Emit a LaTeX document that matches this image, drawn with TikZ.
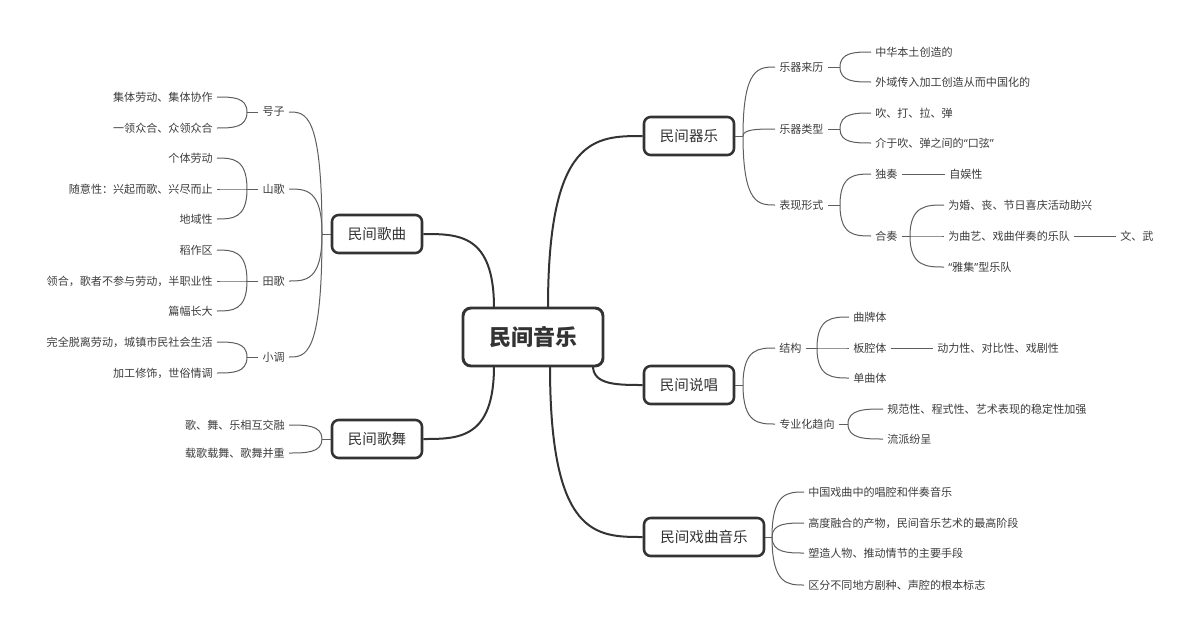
\documentclass[tikz,border=0pt]{standalone}
\usepackage{fontspec}
\newfontfamily\cjk{Noto Sans CJK SC}
\newfontfamily\qf{Noto Sans}
\usetikzlibrary{calc}
\definecolor{ink}{HTML}{333333}
\definecolor{txt}{HTML}{3C3C3C}
\definecolor{wire}{HTML}{5E5E5E}
\newcommand{\openq}{{\qf “}}
\newcommand{\closeq}{{\qf ”}}
\tikzset{
  leaf/.style={font=\cjk\fontsize{8.3}{10}\selectfont, text=txt, inner xsep=3pt, inner ysep=1pt},
  rl/.style={leaf, anchor=west},
  ll/.style={leaf, anchor=east},
  topic/.style={draw=ink, line width=1.9pt, rounded corners=5pt, fill=white, text=ink,
    font=\cjk\fontsize{10.9}{13}\selectfont, minimum width=67.5pt, minimum height=28.5pt, inner sep=0pt},
  rootbox/.style={draw=ink, line width=2.2pt, rounded corners=6pt, fill=white, text=ink,
    font=\cjk\bfseries\fontsize{16.5}{19}\selectfont, minimum width=105pt, minimum height=43.5pt, inner sep=0pt},
  twigline/.style={draw=wire, line width=0.75pt},
  trunkline/.style={draw=ink, line width=1.5pt},
  twig/.style={to path={let \p1=(\tikztostart), \p2=(\tikztotarget) in
    .. controls (\x1,\y2) and ({(\x1+\x2)/2},\y2) .. (\tikztotarget)}},
}
\begin{document}
\begin{tikzpicture}[x=0.75pt,y=-0.75pt]
\useasboundingbox (0,0) rectangle (1200,636);

% central topic and main branches
\node[rootbox] (root) at (533,337) {民间音乐};
\node[topic] (qi) at (689,136) {民间器乐};
\node[topic] (sc) at (689,385) {民间说唱};
\node[topic, minimum width=90pt] (xq) at (704,537) {民间戏曲音乐};
\node[topic] (gq) at (377,234) {民间歌曲};
\node[topic] (gw) at (377,439) {民间歌舞};

\coordinate (r1) at (548,308);
\coordinate (r2) at (593,366);
\coordinate (r3) at (550,366);
\coordinate (r4) at (494,308);
\coordinate (r5) at (494,366);
\draw[trunkline, twig] (r1) to (qi.west);
\draw[trunkline, twig] (r2) to (sc.west);
\draw[trunkline, twig] (r3) to (xq.west);
\draw[trunkline, twig] (r4) to (gq.east);
\draw[trunkline, twig] (r5) to (gw.east);

% ---------- 民间器乐 ----------
\coordinate (fQ) at (743,136);
\draw[twigline] (qi.east) -- (fQ);
\node[rl] (qa) at (775,67) {乐器来历};
\node[rl] (qb) at (775,129) {乐器类型};
\node[rl] (qc) at (775,205) {表现形式};
\foreach \k in {qa,qb,qc} \draw[twigline, twig] (fQ) to (\k.west);

\coordinate (fqa) at (840,67);
\draw[twigline] (qa.east) -- (fqa);
\node[rl] (qa1) at (871,52) {中华本土创造的};
\node[rl] (qa2) at (871,82) {外域传入加工创造从而中国化的};
\draw[twigline, twig] (fqa) to (qa1.west);
\draw[twigline, twig] (fqa) to (qa2.west);

\coordinate (fqb) at (840,129);
\draw[twigline] (qb.east) -- (fqb);
\node[rl] (qb1) at (871,113) {吹、打、拉、弹};
\node[rl] (qb2) at (871,143) {介于吹、弹之间的\openq 口弦\closeq};
\draw[twigline, twig] (fqb) to (qb1.west);
\draw[twigline, twig] (fqb) to (qb2.west);

\coordinate (fqc) at (840,205);
\draw[twigline] (qc.east) -- (fqc);
\node[rl] (qc1) at (871,174) {独奏};
\node[rl] (qc2) at (871,236) {合奏};
\draw[twigline, twig] (fqc) to (qc1.west);
\draw[twigline, twig] (fqc) to (qc2.west);

\node[rl] (qc11) at (945,174) {自娱性};
\draw[twigline] (qc1.east) -- (qc11.west);

\coordinate (fqd) at (910,236);
\draw[twigline] (qc2.east) -- (fqd);
\node[rl] (qc21) at (944,205) {为婚、丧、节日喜庆活动助兴};
\node[rl] (qc22) at (944,236) {为曲艺、戏曲伴奏的乐队};
\node[rl] (qc23) at (944,267) {\openq 雅集\closeq 型乐队};
\foreach \k in {qc21,qc22,qc23} \draw[twigline, twig] (fqd) to (\k.west);
\node[rl] (qc221) at (1116,236) {文、武};
\draw[twigline] (qc22.east) -- (qc221.west);

% ---------- 民间说唱 ----------
\coordinate (fS) at (743,385);
\draw[twigline] (sc.east) -- (fS);
\node[rl] (sa) at (775,348) {结构};
\node[rl] (sb) at (775,424) {专业化趋向};
\draw[twigline, twig] (fS) to (sa.west);
\draw[twigline, twig] (fS) to (sb.west);

\coordinate (fsa) at (817,348);
\draw[twigline] (sa.east) -- (fsa);
\node[rl] (sa1) at (849,317) {曲牌体};
\node[rl] (sa2) at (849,348) {板腔体};
\node[rl] (sa3) at (849,378) {单曲体};
\foreach \k in {sa1,sa2,sa3} \draw[twigline, twig] (fsa) to (\k.west);
\node[rl] (sa21) at (933,348) {动力性、对比性、戏剧性};
\draw[twigline] (sa2.east) -- (sa21.west);

\coordinate (fsb) at (848,424);
\draw[twigline] (sb.east) -- (fsb);
\node[rl] (sb1) at (883,409) {规范性、程式性、艺术表现的稳定性加强};
\node[rl] (sb2) at (883,439) {流派纷呈};
\draw[twigline, twig] (fsb) to (sb1.west);
\draw[twigline, twig] (fsb) to (sb2.west);

% ---------- 民间戏曲音乐 ----------
\coordinate (fX) at (772,537);
\draw[twigline] (xq.east) -- (fX);
\node[rl] (xa) at (804,492) {中国戏曲中的唱腔和伴奏音乐};
\node[rl] (xb) at (804,523) {高度融合的产物，民间音乐艺术的最高阶段};
\node[rl] (xc) at (804,553) {塑造人物、推动情节的主要手段};
\node[rl] (xd) at (804,585) {区分不同地方剧种、声腔的根本标志};
\foreach \k in {xa,xb,xc,xd} \draw[twigline, twig] (fX) to (\k.west);

% ---------- 民间歌曲 ----------
\coordinate (fG) at (322,234);
\draw[twigline] (gq.west) -- (fG);
\node[ll] (ga) at (289,112) {号子};
\node[ll] (gb) at (289,189) {山歌};
\node[ll] (gc) at (289,281) {田歌};
\node[ll] (gd) at (289,357) {小调};
\foreach \k in {ga,gb,gc,gd} \draw[twigline, twig] (fG) to (\k.east);

\coordinate (fga) at (247,112);
\draw[twigline] (ga.west) -- (fga);
\node[ll] (ga1) at (217,97) {集体劳动、集体协作};
\node[ll] (ga2) at (217,128) {一领众合、众领众合};
\draw[twigline, twig] (fga) to (ga1.east);
\draw[twigline, twig] (fga) to (ga2.east);

\coordinate (fgb) at (247,189);
\draw[twigline] (gb.west) -- (fgb);
\node[ll] (gb1) at (217,158) {个体劳动};
\node[ll] (gb2) at (217,189) {随意性：兴起而歌、兴尽而止};
\node[ll] (gb3) at (217,219) {地域性};
\foreach \k in {gb1,gb2,gb3} \draw[twigline, twig] (fgb) to (\k.east);

\coordinate (fgc) at (247,281);
\draw[twigline] (gc.west) -- (fgc);
\node[ll] (gc1) at (217,250) {稻作区};
\node[ll] (gc2) at (217,281) {领合，歌者不参与劳动，半职业性};
\node[ll] (gc3) at (217,311) {篇幅长大};
\foreach \k in {gc1,gc2,gc3} \draw[twigline, twig] (fgc) to (\k.east);

\coordinate (fgd) at (247,357);
\draw[twigline] (gd.west) -- (fgd);
\node[ll] (gd1) at (217,342) {完全脱离劳动，城镇市民社会生活};
\node[ll] (gd2) at (217,373) {加工修饰，世俗情调};
\draw[twigline, twig] (fgd) to (gd1.east);
\draw[twigline, twig] (fgd) to (gd2.east);

% ---------- 民间歌舞 ----------
\coordinate (fW) at (322,439);
\draw[twigline] (gw.west) -- (fW);
\node[ll] (gw1) at (289,425) {歌、舞、乐相互交融};
\node[ll] (gw2) at (289,453) {载歌载舞、歌舞并重};
\draw[twigline, twig] (fW) to (gw1.east);
\draw[twigline, twig] (fW) to (gw2.east);
\end{tikzpicture}
\end{document}
